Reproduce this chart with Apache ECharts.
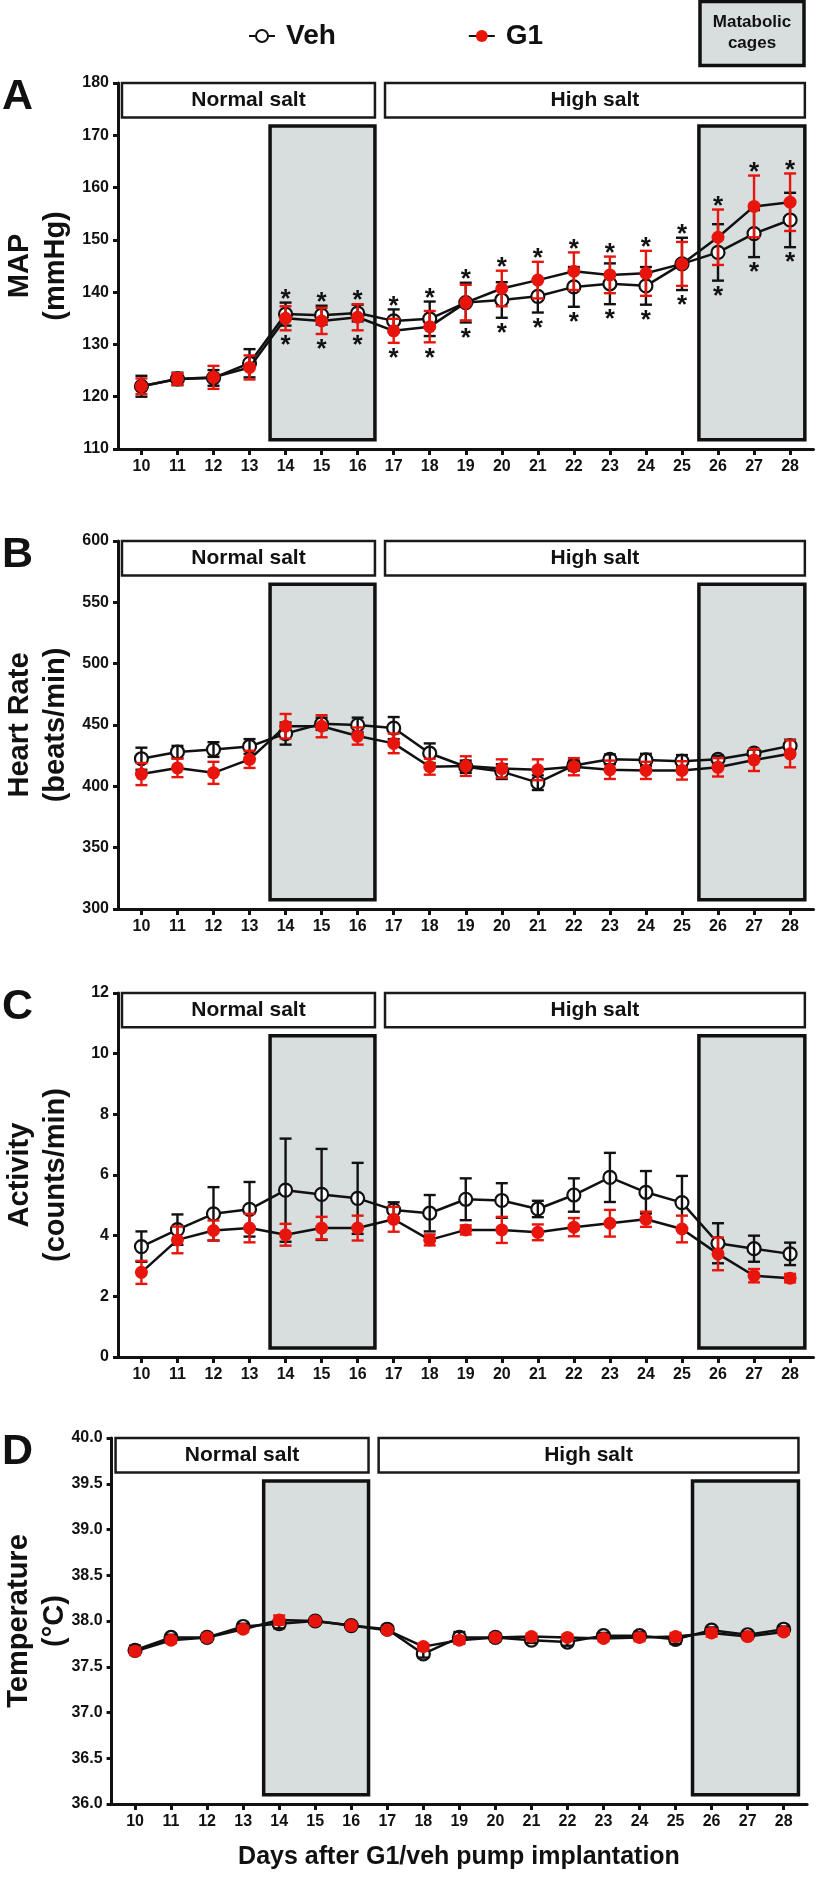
<!DOCTYPE html>
<html><head><meta charset="utf-8">
<script src="https://cdn.jsdelivr.net/npm/echarts@6/dist/echarts.min.js"></script>
<style>html,body{margin:0;padding:0;background:#fff;}#c{width:817px;height:1877px;}</style>
</head><body><div id="c"></div>
<script>
// ---------------- DATA ----------------
const days = [10,11,12,13,14,15,16,17,18,19,20,21,22,23,24,25,26,27,28];

// Panel A: MAP (mmHg)
const vehMAP    = [122.0,123.4,123.6,126.4,135.8,135.6,136.0,134.5,134.9,138.0,138.5,139.2,141.0,141.6,141.2,145.4,147.6,151.2,153.8];
const vehMAPErr = [2.0,1.2,1.5,2.7,2.2,1.8,1.6,2.2,3.3,3.8,3.4,3.1,3.8,3.9,3.6,5.0,5.4,4.5,5.2];
const g1MAP     = [122.0,123.4,123.7,125.6,135.0,134.5,135.2,132.6,133.4,138.0,140.7,142.3,144.0,143.3,143.6,145.4,150.5,156.4,157.2];
const g1MAPErr  = [1.5,1.1,2.2,2.3,2.3,2.5,2.5,2.3,3.0,3.4,3.4,3.5,3.6,3.5,4.3,4.2,5.3,5.9,5.5];
const sigDaysMAP = [14,15,16,17,18,19,20,21,22,23,24,25,26,27,28];

// Panel B: Heart rate (beats/min)
const vehHR    = [422.5,428,430,432.5,443,451,450,447.5,427,416,412,403,417,422,421.5,420.5,422,427,433];
const vehHRErr = [9,5,6,6,9,5,6,9,8,5,6,6,4,4,5,5,3,3,5];
const g1HR     = [410,415,411,422,449,449,441,435,416,416.5,414.5,413.5,416,413.5,413,413,415.5,421.5,426.5];
const g1HRErr  = [9,7.5,9,7,10,9,7,8,6.5,8,7.5,8.5,7,7.5,7,7.5,7.5,9,11];

// Panel C: Activity (counts/min)
const vehAct    = [3.64,4.2,4.72,4.87,5.5,5.36,5.23,4.85,4.74,5.2,5.16,4.88,5.34,5.92,5.43,5.09,3.75,3.57,3.40];
const vehActErr = [0.5,0.5,0.88,0.9,1.7,1.5,1.17,0.25,0.6,0.69,0.57,0.27,0.55,0.81,0.7,0.88,0.66,0.43,0.37];
const g1Act     = [2.79,3.86,4.17,4.25,4.03,4.25,4.25,4.54,3.86,4.19,4.19,4.11,4.28,4.41,4.54,4.22,3.40,2.68,2.60];
const g1ActErr  = [0.38,0.44,0.33,0.47,0.36,0.37,0.41,0.41,0.18,0.15,0.43,0.26,0.3,0.44,0.25,0.44,0.54,0.22,0.14];

// Panel D: Temperature (°C)
const vehTemp    = [37.68,37.82,37.82,37.94,37.97,38.0,37.95,37.91,37.64,37.82,37.82,37.79,37.77,37.84,37.84,37.80,37.90,37.85,37.91];
const vehTempErr = [0.05,0.03,0.04,0.03,0.05,0.03,0.03,0.03,0.04,0.06,0.04,0.03,0.04,0.03,0.04,0.05,0.03,0.03,0.03];
const g1Temp     = [37.67,37.79,37.82,37.91,38.01,38.0,37.95,37.90,37.72,37.79,37.82,37.83,37.82,37.81,37.82,37.83,37.87,37.83,37.88];
const g1TempErr  = [0.04,0.03,0.03,0.03,0.05,0.03,0.03,0.03,0.03,0.04,0.03,0.03,0.03,0.03,0.04,0.04,0.04,0.03,0.03];

// Period annotations (day ranges)
const normalSaltRange = [9.46, 16.48];
const highSaltRange   = [16.76, 28.41];
const cageRanges      = [[13.57, 16.48], [25.47, 28.41]];

// ---------------- STYLE / LAYOUT ----------------
const FONT = "'Liberation Sans', Arial, Helvetica, sans-serif";
const RED = '#e8150d';
const INK = '#111111';
const GRAY = '#d8dddd';
const X_MIN = 9.35, X_MAX = 28.65, PLOT_W = 695.5;

const panels = [
  {letter:'A', left:118, top:83, height:366, min:110, max:180, interval:10, name:'MAP\n(mmHg)',
   veh:vehMAP, vehErr:vehMAPErr, g1:g1MAP, g1Err:g1MAPErr, sig:sigDaysMAP, dec:0, gap:44},
  {letter:'B', left:118, top:541, height:368, min:300, max:600, interval:50, name:'Heart Rate\n(beats/min)',
   veh:vehHR, vehErr:vehHRErr, g1:g1HR, g1Err:g1HRErr, sig:[], dec:0, gap:44},
  {letter:'C', left:118, top:993, height:364, min:0, max:12, interval:2, name:'Activity\n(counts/min)',
   veh:vehAct, vehErr:vehActErr, g1:g1Act, g1Err:g1ActErr, sig:[], dec:0, gap:44},
  {letter:'D', left:111.6, top:1438, height:366, min:36, max:40, interval:0.5, name:'Temperature\n(°C)',
   veh:vehTemp, vehErr:vehTempErr, g1:g1Temp, g1Err:g1TempErr, sig:[], dec:1, gap:39}
];

function errRender(color){
  return function(params, api){
    const x = api.value(0), y = api.value(1), e = api.value(2);
    const t = api.coord([x, y + e]), b = api.coord([x, y - e]);
    const w = 6, st = {stroke: color, lineWidth: 2.4};
    return {type:'group', children:[
      {type:'line', shape:{x1:t[0],y1:t[1],x2:b[0],y2:b[1]}, style:st},
      {type:'line', shape:{x1:t[0]-w,y1:t[1],x2:t[0]+w,y2:t[1]}, style:st},
      {type:'line', shape:{x1:b[0]-w,y1:b[1],x2:b[0]+w,y2:b[1]}, style:st}
    ]};
  };
}

function starRender(params, api){
  const x = api.value(0), hi = api.value(1), lo = api.value(2);
  const t = api.coord([x, hi]), b = api.coord([x, lo]);
  const st = {fontSize: 26, fontWeight:'bold', fontFamily: FONT, fill: INK, align:'center', verticalAlign:'middle'};
  return {type:'group', children:[
    {type:'text', x:t[0], y:t[1]-3, style:Object.assign({text:'*'}, st)},
    {type:'text', x:b[0], y:b[1]+16, style:Object.assign({text:'*'}, st)}
  ]};
}

const grid = [], xAxis = [], yAxis = [], series = [], graphic = [];
panels.forEach((p, i) => {
  grid.push({left:p.left, top:p.top, width:PLOT_W, height:p.height, containLabel:false, outerBoundsMode:'none'});
  const axisLine = {show:true, onZero:false, lineStyle:{color:INK, width:3}};
  xAxis.push({type:'value', gridIndex:i, min:X_MIN, max:X_MAX, axisLine,
    splitLine:{show:false},
    axisTick:{show:true, customValues:days, length:6, lineStyle:{color:INK, width:3}},
    axisLabel:{show:true, customValues:days, margin:10, fontSize:16, fontWeight:'bold', fontFamily:FONT, color:INK}
  });
  yAxis.push({type:'value', gridIndex:i, min:p.min, max:p.max, interval:p.interval, axisLine,
    splitLine:{show:false},
    axisTick:{show:true, length:5, lineStyle:{color:INK, width:3}},
    axisLabel:{margin:9, fontSize:16, fontWeight:'bold', fontFamily:FONT, color:INK,
      formatter: v => v.toFixed(p.dec)},
    name:p.name, nameLocation:'middle', nameRotate:90, nameGap:p.gap, nameMoveOverlap:false,
    nameTextStyle:{fontSize:29, fontWeight:'bold', fontFamily:FONT, color:INK, lineHeight:36, align:'center'}
  });
  const range = p.max - p.min;
  const labelBottom = p.max - 0.094 * range;
  const grayTop = p.max - 0.1175 * range;
  const grayBottom = p.min + 0.025 * range;
  const boxLabel = {show:true, position:'inside', fontSize:21, fontWeight:'bold', fontFamily:FONT, color:INK};
  // annotation boxes
  series.push({type:'line', xAxisIndex:i, yAxisIndex:i, data:[], silent:true, z:1,
    markArea:{silent:true, z:1, data:[
      [{xAxis:cageRanges[0][0], yAxis:grayTop, label:{show:false}, itemStyle:{color:GRAY, borderColor:INK, borderWidth:3.5}},
       {xAxis:cageRanges[0][1], yAxis:grayBottom}],
      [{xAxis:cageRanges[1][0], yAxis:grayTop, label:{show:false}, itemStyle:{color:GRAY, borderColor:INK, borderWidth:3.5}},
       {xAxis:cageRanges[1][1], yAxis:grayBottom}],
      [{name:'Normal salt', xAxis:normalSaltRange[0], yAxis:p.max, label:boxLabel, itemStyle:{color:'#fff', borderColor:'#1a1a1a', borderWidth:2.5}},
       {xAxis:normalSaltRange[1], yAxis:labelBottom}],
      [{name:'High salt', xAxis:highSaltRange[0], yAxis:p.max, label:boxLabel, itemStyle:{color:'#fff', borderColor:'#1a1a1a', borderWidth:2.5}},
       {xAxis:highSaltRange[1], yAxis:labelBottom}]
    ]}
  });
  series.push({name:'Veh', type:'line', xAxisIndex:i, yAxisIndex:i, z:2,
    data: days.map((d,k)=>[d, p.veh[k]]),
    symbol:'circle', symbolSize:13,
    itemStyle:{color:'#fff', borderColor:INK, borderWidth:2.2},
    lineStyle:{color:INK, width:2.5}
  });
  series.push({type:'custom', xAxisIndex:i, yAxisIndex:i, z:3, renderItem:errRender(INK),
    encode:{x:0, y:1}, data: days.map((d,k)=>[d, p.veh[k], p.vehErr[k]])});
  series.push({name:'G1', type:'line', xAxisIndex:i, yAxisIndex:i, z:4,
    data: days.map((d,k)=>[d, p.g1[k]]),
    symbol:'circle', symbolSize:13,
    itemStyle:{color:RED, borderWidth:0},
    lineStyle:{color:INK, width:2.5}
  });
  series.push({type:'custom', xAxisIndex:i, yAxisIndex:i, z:5, renderItem:errRender(RED),
    encode:{x:0, y:1}, data: days.map((d,k)=>[d, p.g1[k], p.g1Err[k]])});
  if (p.sig.length) {
    const starData = p.sig.map(d => {
      const k = days.indexOf(d);
      const hi = Math.max(p.veh[k] + p.vehErr[k], p.g1[k] + p.g1Err[k]);
      const lo = Math.min(p.veh[k] - p.vehErr[k], p.g1[k] - p.g1Err[k]);
      return [d, hi, lo];
    });
    series.push({type:'custom', xAxisIndex:i, yAxisIndex:i, z:6, renderItem:starRender,
      encode:{x:0, y:1}, data:starData});
  }
  graphic.push({type:'text', left:2, top:p.top - 7,
    style:{text:p.letter, fontSize:43, fontWeight:'bold', fontFamily:FONT, fill:INK}});
});

// Metabolic cages key box
graphic.push({type:'rect', shape:{x:700, y:1.5, width:104, height:64},
  style:{fill:GRAY, stroke:INK, lineWidth:3.5}});
graphic.push({type:'text', x:752, y:33,
  style:{text:'Matabolic\ncages', fontSize:17, fontWeight:'bold', fontFamily:FONT, fill:INK,
    align:'center', verticalAlign:'middle', lineHeight:21}});
// x-axis title
graphic.push({type:'text', x:459, y:1857,
  style:{text:'Days after G1/veh pump implantation', fontSize:25, fontWeight:'bold', fontFamily:FONT,
    fill:INK, align:'center', verticalAlign:'middle'}});

const chart = echarts.init(document.getElementById('c'), null, {renderer:'canvas'});
chart.setOption({
  animation:false,
  backgroundColor:'#fff',
  legend:{data:['Veh','G1'], left:243, top:17, itemWidth:26, itemHeight:15, itemGap:132,
    textStyle:{fontSize:28, fontWeight:'bold', fontFamily:FONT, color:INK, padding:[0,0,0,6]},
    selectedMode:false},
  grid, xAxis, yAxis, series, graphic
});
</script>
</body></html>
